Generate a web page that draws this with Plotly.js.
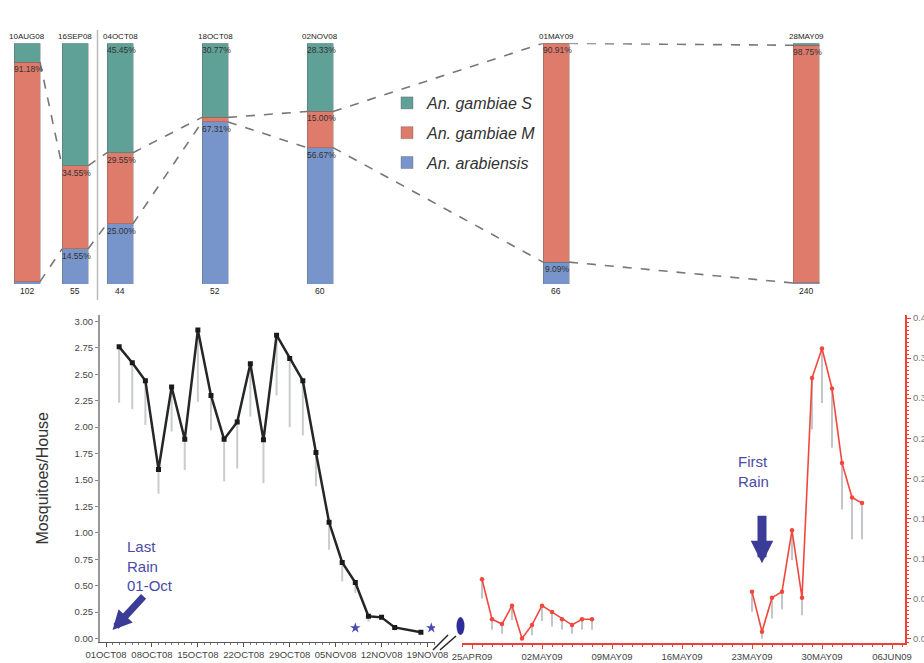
<!DOCTYPE html>
<html><head><meta charset="utf-8">
<script src="https://cdn.plot.ly/plotly-3.0.1.min.js"></script>
<style>html,body{margin:0;padding:0;background:#fff}</style>
</head><body><div id="chart" style="width:924px;height:663px"></div>
<script>
// ---------- Top panel: species composition (%) ----------
const sampleDates = ['10AUG08','16SEP08','04OCT08','18OCT08','02NOV08','01MAY09','28MAY09'];
const sampleSizes = [102, 55, 44, 52, 60, 66, 240];
const pctArabiensis = [0.98, 14.55, 25.00, 67.31, 56.67, 9.09, 0.42];
const pctGambiaeM   = [91.18, 34.55, 29.55, 1.92, 15.00, 90.91, 98.75];
const pctGambiaeS   = [7.84, 50.91, 45.45, 30.77, 28.33, 0.00, 0.83];

// ---------- Bottom panel: mosquitoes per house ----------
const dry08Dates = ['2008-10-03','2008-10-05','2008-10-07','2008-10-09','2008-10-11','2008-10-13',
  '2008-10-15','2008-10-17','2008-10-19','2008-10-21','2008-10-23','2008-10-25','2008-10-27',
  '2008-10-29','2008-10-31','2008-11-02','2008-11-04','2008-11-06','2008-11-08','2008-11-10',
  '2008-11-12','2008-11-14','2008-11-18'];
const dry08Mean = [2.76, 2.61, 2.44, 1.60, 2.38, 1.885, 2.92, 2.30, 1.885, 2.05, 2.60, 1.88, 2.87,
  2.65, 2.44, 1.76, 1.10, 0.72, 0.53, 0.21, 0.20, 0.105, 0.06];
const dry08ErrMinus = [0.53, 0.44, 0.42, 0.23, 0.42, 0.29, 0.68, 0.33, 0.40, 0.44, 0.50, 0.41, 0.57,
  0.65, 0.52, 0.32, 0.26, 0.18, 0.10, 0.05, 0.02, 0.03, 0.0];
const starDates = ['2008-11-08', '2008-11-19 14:00'];
const starValues = [0.10, 0.10];

const wet09aDates = ['2009-04-26','2009-04-27','2009-04-28','2009-04-29','2009-04-30','2009-05-01',
  '2009-05-02','2009-05-03','2009-05-04','2009-05-05','2009-05-06','2009-05-07'];
const wet09aMean = [0.074, 0.024, 0.018, 0.041, 0.0, 0.017, 0.041, 0.033, 0.024, 0.017, 0.024, 0.024];
const wet09aErrMinus = [0.024, 0.013, 0.012, 0.018, 0.0, 0.013, 0.019, 0.018, 0.013, 0.011, 0.013, 0.013];

const wet09bDates = ['2009-05-23','2009-05-24','2009-05-25','2009-05-26','2009-05-27','2009-05-28',
  '2009-05-29','2009-05-30','2009-05-31','2009-06-01','2009-06-02','2009-06-03'];
const wet09bMean = [0.0585, 0.0085, 0.051, 0.0585, 0.135, 0.051, 0.325, 0.362, 0.312, 0.219, 0.176, 0.169];
const wet09bErrMinus = [0.025, 0.0085, 0.026, 0.022, 0.037, 0.022, 0.064, 0.068, 0.074, 0.058, 0.052, 0.045];

const leftTickDates = ['2008-10-01','2008-10-08','2008-10-15','2008-10-22','2008-10-29','2008-11-05','2008-11-12','2008-11-19'];
const leftTickText  = ['01OCT08','08OCT08','15OCT08','22OCT08','29OCT08','05NOV08','12NOV08','19NOV08'];
const rightTickDates = ['2009-04-25','2009-05-02','2009-05-09','2009-05-16','2009-05-23','2009-05-30','2009-06-06'];
const rightTickText  = ['25APR09','02MAY09','09MAY09','16MAY09','23MAY09','30MAY09','06JUN09'];

// ---------- layout helpers (positions / styles) ----------
const barSlots = [27, 75, 120, 215, 320, 556, 806];   // horizontal slot of each sample bar
const barW = 26;
const FONT = 'Liberation Sans, Arial, sans-serif';
const W = 924, H = 663;
const px = v => v / W, py = v => 1 - v / H;

const colS = '#5fa097', colM = '#de7b6b', colA = '#7795cb';
const barLine = {color: 'rgba(90,90,90,0.35)', width: 1};

const traces = [
  {type:'bar', name:'An. arabiensis', x: barSlots, y: pctArabiensis, width: barW, xaxis:'x', yaxis:'y',
   marker:{color: colA, line: barLine}, legendgroup:'a', legendrank: 3, hoverinfo:'skip'},
  {type:'bar', name:'An. gambiae M', x: barSlots, y: pctGambiaeM, width: barW, xaxis:'x', yaxis:'y',
   marker:{color: colM, line: barLine}, legendgroup:'m', legendrank: 2, hoverinfo:'skip'},
  {type:'bar', name:'An. gambiae S', x: barSlots, y: pctGambiaeS, width: barW, xaxis:'x', yaxis:'y',
   marker:{color: colS, line: barLine}, legendgroup:'s', legendrank: 1, hoverinfo:'skip'},
  {type:'scatter', mode:'lines+markers', x: dry08Dates, y: dry08Mean, xaxis:'x2', yaxis:'y2', showlegend:false,
   line:{color:'#262626', width:2.5}, marker:{color:'#1a1a1a', size:5, symbol:'square'},
   error_y:{type:'data', symmetric:false, array: dry08Mean.map(() => 0), arrayminus: dry08ErrMinus,
            color:'#c9cbcd', thickness:2, width:0}},
  {type:'scatter', mode:'markers', x: starDates, y: starValues, xaxis:'x2', yaxis:'y2', showlegend:false,
   marker:{symbol:'star', size:8, color:'#4a4ab5'}},
  {type:'scatter', mode:'lines+markers', x: wet09aDates, y: wet09aMean, xaxis:'x3', yaxis:'y3', showlegend:false,
   line:{color:'#f2473d', width:1.6}, marker:{color:'#f2473d', size:4.5},
   error_y:{type:'data', symmetric:false, array: wet09aMean.map(() => 0), arrayminus: wet09aErrMinus,
            color:'#c3c7cb', thickness:2, width:0}},
  {type:'scatter', mode:'lines+markers', x: wet09bDates, y: wet09bMean, xaxis:'x3', yaxis:'y3', showlegend:false,
   line:{color:'#f2473d', width:1.6}, marker:{color:'#f2473d', size:4.5},
   error_y:{type:'data', symmetric:false, array: wet09bMean.map(() => 0), arrayminus: wet09bErrMinus,
            color:'#c3c7cb', thickness:2, width:0}}
];

// ---------- annotations ----------
const annotations = [];
sampleDates.forEach((d, i) => {
  annotations.push({xref:'x', yref:'y', x: barSlots[i], y: 100, text: d, showarrow:false,
    yanchor:'bottom', font:{size:8, color:'#222', family: FONT}});
  annotations.push({xref:'x', yref:'y', x: barSlots[i], y: 0, text: String(sampleSizes[i]), showarrow:false,
    yanchor:'top', font:{size:8.5, color:'#222', family: FONT}});
  const segs = [pctArabiensis[i], pctGambiaeM[i], pctGambiaeS[i]];
  let cum = 0;
  segs.forEach(v => {
    cum += v;
    if (v >= 5) {
      annotations.push({xref:'x', yref:'y', x: barSlots[i] + 1, y: cum, text: v.toFixed(2) + '%',
        showarrow:false, yanchor:'top', font:{size:8.5, color:'#333', family: FONT}});
    }
  });
});
annotations.push({xref:'paper', yref:'paper', x: px(125), y: py(536), xanchor:'left', yanchor:'top', align:'left',
  text:'Last<br>Rain<br>01-Oct', showarrow:false, font:{size:15, color:'#4a4aa6', family: FONT}});
annotations.push({xref:'x2', yref:'y2', x:'2008-10-02', y:0.08, ax:34, ay:-37, text:' ', showarrow:true,
  arrowhead:2, arrowsize:0.55, arrowwidth:7, arrowcolor:'#3b3b98'});
annotations.push({xref:'paper', yref:'paper', x: px(736), y: py(451), xanchor:'left', yanchor:'top', align:'left',
  text:'First<br>Rain', showarrow:false, font:{size:15, color:'#4a4aa6', family: FONT}});
annotations.push({xref:'x3', yref:'y3', x:'2009-05-24', y:0.094, ax:0, ay:-56, text:' ', showarrow:true,
  arrowhead:2, arrowsize:0.5, arrowwidth:9, arrowcolor:'#3b3b98'});

// ---------- shapes ----------
const shapes = [];
const dashLine = {color:'#777', width:1.6, dash:'dash'};
for (let i = 0; i < barSlots.length - 1; i++) {
  const upper0 = pctArabiensis[i] + pctGambiaeM[i], upper1 = pctArabiensis[i+1] + pctGambiaeM[i+1];
  shapes.push({type:'line', xref:'x', yref:'y', x0: barSlots[i] + barW/2, x1: barSlots[i+1] - barW/2,
    y0: upper0, y1: upper1, line: dashLine});
  shapes.push({type:'line', xref:'x', yref:'y', x0: barSlots[i] + barW/2, x1: barSlots[i+1] - barW/2,
    y0: pctArabiensis[i], y1: pctArabiensis[i+1], line: dashLine});
}
const sepX = (barSlots[1] + barSlots[2]) / 2;
shapes.push({type:'line', xref:'x', yref:'paper', x0: sepX, x1: sepX, y0: py(300), y1: py(30),
  line:{color:'#bbb', width:1.5}});
// axis break marks and oval marker
shapes.push({type:'line', xref:'paper', yref:'paper', x0: px(433), y0: py(650), x1: px(448), y1: py(635),
  line:{color:'#222', width:1.5}});
shapes.push({type:'line', xref:'paper', yref:'paper', x0: px(440), y0: py(650), x1: px(456), y1: py(636),
  line:{color:'#222', width:1.5}});
shapes.push({type:'circle', xref:'paper', yref:'paper', x0: px(456.5), x1: px(464.5), y0: py(635), y1: py(617),
  fillcolor:'#2e2e9a', line:{width:0}});

const tickFont = {size:9.5, color:'#444', family: FONT};
const red = '#ee4035';
const layout = {
  width: W, height: H, margin:{l:0, r:0, t:0, b:0},
  paper_bgcolor:'#fff', plot_bgcolor:'rgba(0,0,0,0)',
  font:{family: FONT}, barmode:'stack', showlegend:true,
  legend:{x: px(387), y: py(86), xanchor:'left', yanchor:'top', traceorder:'grouped', tracegroupgap: 6,
    bgcolor:'rgba(0,0,0,0)', font:{size:16, color:'#333', style:'italic', family: FONT}},
  xaxis:{domain:[0,1], range:[0, W], visible:false, fixedrange:true},
  yaxis:{domain:[py(284), py(43.3)], range:[0,100], visible:false, fixedrange:true},
  xaxis2:{domain:[px(100), px(435)], anchor:'y2', type:'date',
    range:['2008-09-30 02:00', '2008-11-20 03:30'],
    tickmode:'array', tickvals: leftTickDates, ticktext: leftTickText,
    ticks:'outside', ticklen:4, tickcolor:'#555', showline:true, linecolor:'#555', linewidth:1.5,
    showgrid:false, zeroline:false, tickfont: tickFont,
    minor:{ticks:'outside', ticklen:2, dtick: 86400000, tick0:'2008-10-01', tickcolor:'#777'}},
  yaxis2:{domain:[py(641.5), py(315)], anchor:'x2', range:[-0.0284, 3.0615], dtick:0.25, tick0:0, tickformat:'.2f',
    ticks:'outside', ticklen:3, tickcolor:'#888', showline:true, linecolor:'#999', linewidth:2,
    showgrid:false, zeroline:false, tickfont: tickFont,
    title:{text:'Mosquitoes/House', font:{size:16, color:'#333', family: FONT}, standoff: 22}},
  xaxis3:{domain:[px(462), px(905)], anchor:'y3', type:'date',
    range:['2009-04-24', '2009-06-07 07:12'],
    tickmode:'array', tickvals: rightTickDates, ticktext: rightTickText,
    ticks:'outside', ticklen:4, tickcolor: red, showline:true, linecolor: red, linewidth:2,
    showgrid:false, zeroline:false, tickfont: tickFont,
    minor:{ticks:'outside', ticklen:2, dtick: 86400000, tick0:'2009-04-25', tickcolor: red}},
  yaxis3:{domain:[py(643), py(315)], anchor:'x3', side:'right', range:[-0.0056, 0.40375], dtick:0.05, tick0:0,
    tickformat:'.2f', ticks:'outside', ticklen:4, tickcolor: red, showline:true, linecolor: red, linewidth:2,
    showgrid:false, zeroline:false, tickfont:{size:9.5, color:'#777', family: FONT},
    minor:{ticks:'outside', ticklen:2, dtick:0.005, tickcolor: red}},
  annotations, shapes
};

Plotly.newPlot('chart', traces, layout, {displayModeBar:false, staticPlot:true});
</script></body></html>
